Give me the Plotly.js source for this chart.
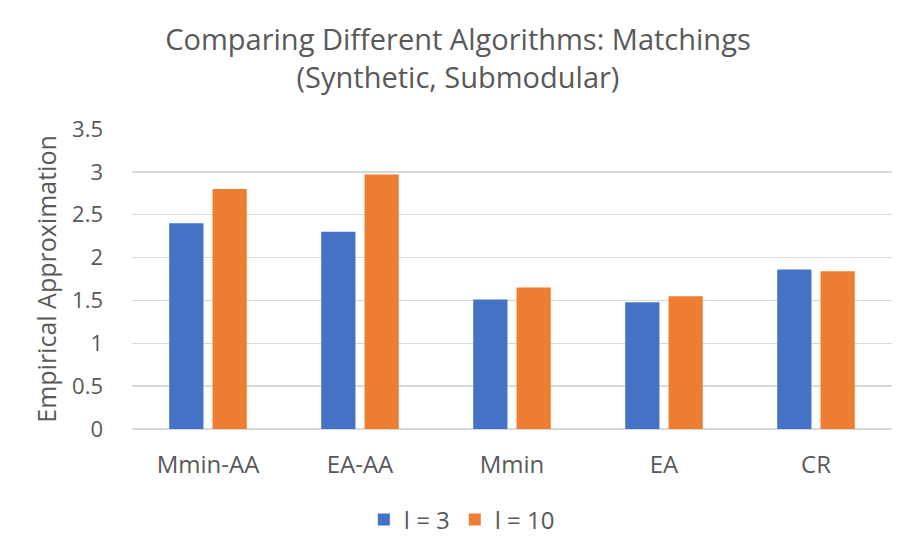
<!DOCTYPE html>
<html>
<head>
<meta charset="utf-8">
<script src="https://cdn.plot.ly/plotly-3.0.1.min.js"></script>
<style>
  html, body { margin: 0; padding: 0; background: #fff; }
  #chart { width: 916px; height: 557px; }
</style>
</head>
<body>
<div id="chart"></div>
<script>
var algorithms = ['Mmin-AA', 'EA-AA', 'Mmin', 'EA', 'CR'];
var l3Values = [2.40, 2.30, 1.51, 1.48, 1.86];
var l10Values = [2.80, 2.97, 1.65, 1.55, 1.84];
var seriesNames = ['l = 3', 'l = 10'];

var textColor = '#595959';
var fontFamily = '"Open Sans", Lato, sans-serif';

var trace1 = {
  x: algorithms,
  y: l3Values,
  type: 'bar',
  name: seriesNames[0],
  marker: { color: '#4472C4' }
};

var trace2 = {
  x: algorithms,
  y: l10Values,
  type: 'bar',
  name: seriesNames[1],
  marker: { color: '#ED7D31' }
};

var data = [trace1, trace2];

var layout = {
  width: 916,
  height: 557,
  paper_bgcolor: '#fff',
  plot_bgcolor: '#fff',
  font: { family: fontFamily, color: textColor, size: 22 },
  barmode: 'group',
  bargap: 0.43,
  bargroupgap: 0.21,
  margin: { l: 132, r: 24, t: 129, b: 128 },
  title: {
    text: 'Comparing Different Algorithms: Matchings<br>(Synthetic, Submodular)',
    font: { size: 29, color: textColor, family: fontFamily },
    x: 0.5,
    xref: 'container',
    xanchor: 'center',
    y: 0.91,
    yref: 'container',
    yanchor: 'middle'
  },
  showlegend: true,
  legend: {
    orientation: 'h',
    x: 0.434,
    xanchor: 'center',
    y: -0.303,
    yanchor: 'middle',
    font: { size: 24, color: textColor },
    itemwidth: 30
  },
  xaxis: {
    showgrid: false,
    showline: false,
    ticks: '',
    ticklabelstandoff: 19,
    tickfont: { size: 24, color: textColor }
  },
  yaxis: {
    range: [0, 3.5],
    dtick: 0.5,
    tick0: 0,
    showgrid: true,
    gridcolor: '#D9D9D9',
    gridwidth: 1.5,
    zeroline: true,
    zerolinecolor: '#D9D9D9',
    zerolinewidth: 1.5,
    showline: false,
    ticks: '',
    ticklabelstandoff: 28,
    tickfont: { size: 22, color: textColor },
    title: {
      text: 'Empirical Approximation',
      font: { size: 25, color: textColor },
      standoff: 8
    }
  }
};

var additional_param = {
  displayModeBar: false,
  staticPlot: true
};

Plotly.newPlot('chart', data, layout, additional_param);
</script>
</body>
</html>
